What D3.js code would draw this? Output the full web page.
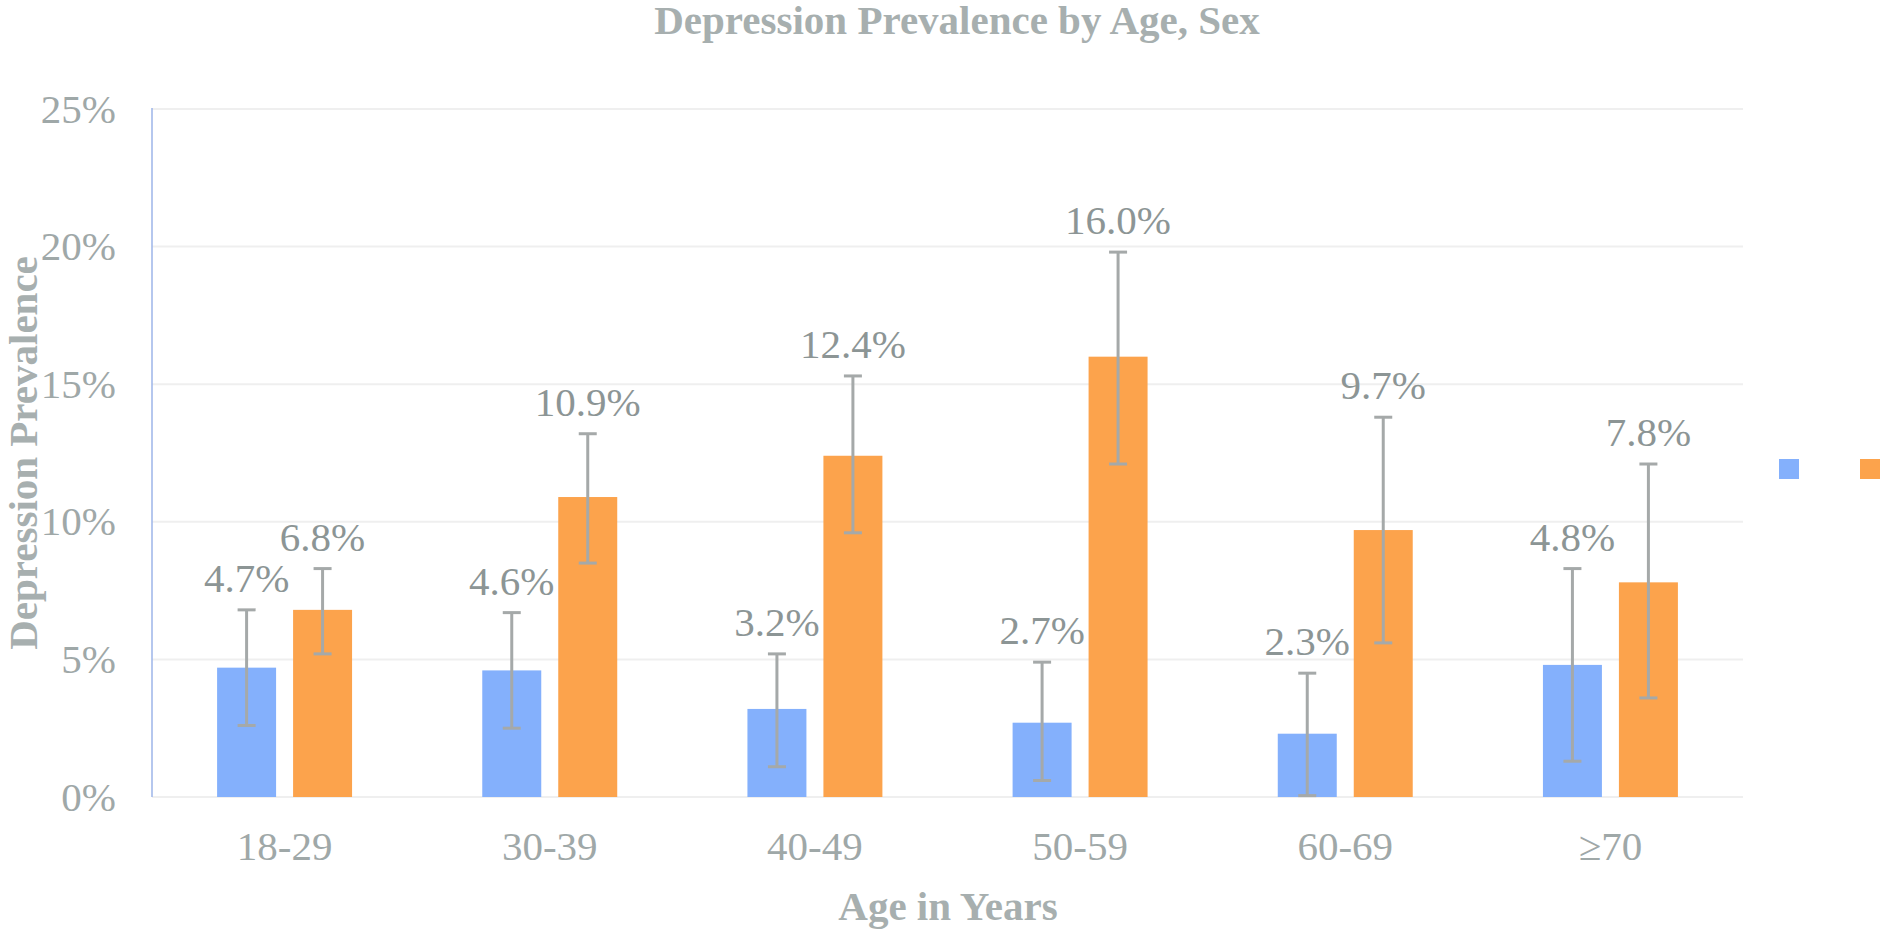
<!doctype html>
<html>
<head>
<meta charset="UTF-8">
<title>Depression Prevalence by Age, Sex</title>
<script src="https://d3js.org/d3.v7.min.js"></script>
<style>
  body { margin: 0; background: #fff; }
  text { font-family: "Liberation Serif", "Times New Roman", serif; }
</style>
</head>
<body>
<svg id="chart" width="1881" height="931"></svg>
<script>
// data (percent)
var ageGroups = ["18-29", "30-39", "40-49", "50-59", "60-69", "\u226570"];
var seriesNames = ["Male", "Female"];
var maleValues = [4.7, 4.6, 3.2, 2.7, 2.3, 4.8];
var femaleValues = [6.8, 10.9, 12.4, 16.0, 9.7, 7.8];
var maleLow = [2.6, 2.5, 1.1, 0.6, 0.05, 1.3];
var maleHigh = [6.8, 6.7, 5.2, 4.9, 4.5, 8.3];
var femaleLow = [5.2, 8.5, 9.6, 12.1, 5.6, 3.6];
var femaleHigh = [8.3, 13.2, 15.3, 19.8, 13.8, 12.1];
var yTicks = [0, 5, 10, 15, 20, 25];

var colors = {Male: "#84b0fc", Female: "#fca34c"};
var textGray = "#9fa8a8";
var labelGray = "#8c9595";

var svg = d3.select("#chart");
var plotLeft = 152, plotRight = 1743, plotTop = 109, plotBottom = 797;

var x0 = d3.scaleBand().domain(ageGroups).range([plotLeft, plotRight])
    .paddingInner(0.491).paddingOuter(0.2455);
var x1 = d3.scaleBand().domain(seriesNames).range([0, x0.bandwidth()])
    .paddingInner(0.2237);
var y = d3.scaleLinear().domain([0, 25]).range([plotBottom, plotTop]);

// gridlines
svg.append("g").selectAll("line").data(yTicks).enter().append("line")
    .attr("x1", plotLeft).attr("x2", plotRight)
    .attr("y1", function(d){ return y(d); })
    .attr("y2", function(d){ return y(d); })
    .attr("stroke", "#efefef").attr("stroke-width", 2);

// left axis line
svg.append("line")
    .attr("x1", plotLeft).attr("x2", plotLeft)
    .attr("y1", y(25) - 1).attr("y2", plotBottom)
    .attr("stroke", "#9db5e8").attr("stroke-width", 1.5);

// y axis labels
var yAxis = svg.append("g").attr("transform", "translate(" + plotLeft + ",0)")
    .call(d3.axisLeft(y).tickValues(yTicks).tickSize(0).tickPadding(36)
        .tickFormat(function(d){ return d + "%"; }));
yAxis.select(".domain").remove();
yAxis.selectAll("text").attr("font-size", 41).attr("fill", textGray)
    .attr("font-family", "Liberation Serif, Times New Roman, serif");

// x axis labels
var xAxis = svg.append("g").attr("transform", "translate(0," + plotBottom + ")")
    .call(d3.axisBottom(x0).tickSize(0).tickPadding(34));
xAxis.select(".domain").remove();
xAxis.selectAll("text").attr("font-size", 41).attr("fill", textGray)
    .attr("font-family", "Liberation Serif, Times New Roman, serif");

// build rows
var rows = [];
ageGroups.forEach(function(g, i){
    rows.push({group: g, s: "Male", v: maleValues[i], lo: maleLow[i], hi: maleHigh[i]});
    rows.push({group: g, s: "Female", v: femaleValues[i], lo: femaleLow[i], hi: femaleHigh[i]});
});
function cx(d){ return x0(d.group) + x1(d.s) + x1.bandwidth() / 2; }

// bars
svg.append("g").selectAll("rect").data(rows).enter().append("rect")
    .attr("x", function(d){ return x0(d.group) + x1(d.s); })
    .attr("y", function(d){ return y(d.v); })
    .attr("width", x1.bandwidth())
    .attr("height", function(d){ return plotBottom - y(d.v); })
    .attr("fill", function(d){ return colors[d.s]; });

// error bars
var eb = svg.append("g").attr("stroke", "#a5a9a9").attr("stroke-width", 3);
eb.selectAll(".v").data(rows).enter().append("line")
    .attr("x1", cx).attr("x2", cx)
    .attr("y1", function(d){ return y(d.lo); })
    .attr("y2", function(d){ return y(d.hi); });
eb.selectAll(".ct").data(rows).enter().append("line")
    .attr("x1", function(d){ return cx(d) - 9; }).attr("x2", function(d){ return cx(d) + 9; })
    .attr("y1", function(d){ return y(d.hi); }).attr("y2", function(d){ return y(d.hi); });
eb.selectAll(".cb").data(rows).enter().append("line")
    .attr("x1", function(d){ return cx(d) - 9; }).attr("x2", function(d){ return cx(d) + 9; })
    .attr("y1", function(d){ return y(d.lo); }).attr("y2", function(d){ return y(d.lo); });

// value labels
svg.append("g").selectAll("text").data(rows).enter().append("text")
    .attr("x", cx)
    .attr("y", function(d){ return y(d.hi) - 18; })
    .attr("text-anchor", "middle")
    .attr("font-size", 41)
    .attr("fill", labelGray)
    .text(function(d){ return d.v.toFixed(1) + "%"; });

// title
svg.append("text").attr("x", 957).attr("y", 34)
    .attr("text-anchor", "middle").attr("font-size", 41).attr("font-weight", "bold")
    .attr("fill", "#a7afaf").text("Depression Prevalence by Age, Sex");

// axis titles
svg.append("text").attr("x", 948).attr("y", 920)
    .attr("text-anchor", "middle").attr("font-size", 41).attr("font-weight", "bold")
    .attr("fill", "#a7afaf").text("Age in Years");
svg.append("text").attr("transform", "translate(37," + ((plotTop + plotBottom) / 2) + ") rotate(-90)")
    .attr("text-anchor", "middle").attr("font-size", 41).attr("font-weight", "bold")
    .attr("fill", "#a7afaf").text("Depression Prevalence");

// legend (swatches only)
svg.append("g").selectAll("rect").data(seriesNames).enter().append("rect")
    .attr("x", function(d, i){ return 1779 + i * 81; })
    .attr("y", 459).attr("width", 20).attr("height", 20)
    .attr("fill", function(d){ return colors[d]; });
</script>
</body>
</html>
